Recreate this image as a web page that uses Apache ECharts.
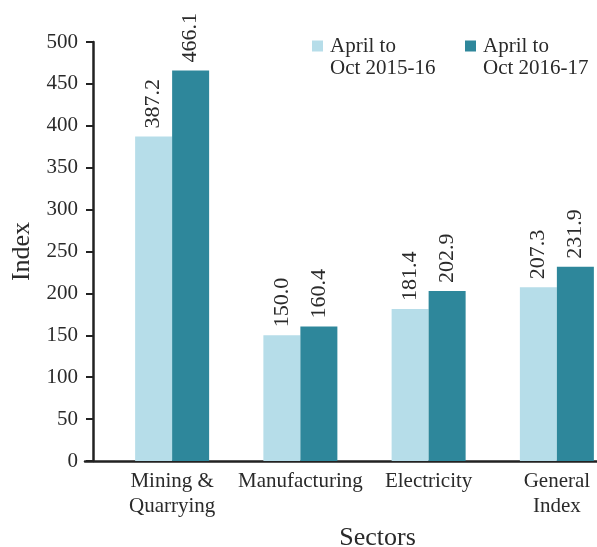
<!DOCTYPE html>
<html>
<head>
<meta charset="utf-8">
<script src="https://cdn.jsdelivr.net/npm/echarts@6/dist/echarts.min.js"></script>
<style>
  html, body { margin: 0; padding: 0; background: #fff; }
  #chart { width: 597px; height: 547px; }
</style>
</head>
<body>
<div id="chart"></div>
<script>
const sectors = ['Mining &\nQuarrying', 'Manufacturing', 'Electricity', 'General\nIndex']
const seriesNames = ['April to\nOct 2015-16', 'April to\nOct 2016-17']
const values2015 = [387.2, 150.0, 181.4, 207.3]
const values2016 = [466.1, 160.4, 202.9, 231.9]
const colors = ['#b6dde9', '#2e879b']

const font = 'Liberation Serif'
const textColor = '#2a2a2a'

const chart = echarts.init(document.getElementById('chart'))

// square at the top of a taller box so the icon sits beside the first line
const legendIcon = 'path://M0,0H11V11H0Z M0,33L0,33'

function legendFor(name, left) {
  return {
    data: [name],
    left: left,
    top: 35,
    padding: 0,
    icon: legendIcon,
    itemWidth: 11,
    itemHeight: 33,
    itemGap: 0,
    selectedMode: false,
    textStyle: { fontFamily: font, fontSize: 21, lineHeight: 22, color: textColor, padding: [0, 0, 0, 2] }
  }
}

const barLabel = {
  show: true,
  position: 'top',
  rotate: 90,
  align: 'left',
  verticalAlign: 'middle',
  distance: 8,
  fontFamily: font,
  fontSize: 22,
  color: textColor,
  formatter: p => p.value.toFixed(1)
}

chart.setOption({
  animation: false,
  legend: [legendFor(seriesNames[0], 312), legendFor(seriesNames[1], 465)],
  grid: [
    { left: 108, right: -24, top: 42, bottom: 86, outerBoundsMode: 'none', containLabel: false },
    { left: 85, right: 0, top: 42, bottom: 86, outerBoundsMode: 'none', containLabel: false }
  ],
  xAxis: [
    {
      type: 'category',
      data: sectors,
      gridIndex: 0,
      axisLine: { show: false },
      axisTick: { show: false },
      axisLabel: { interval: 0, margin: 8, fontFamily: font, fontSize: 21, lineHeight: 25, color: textColor },
      name: 'Sectors',
      nameLocation: 'middle',
      nameGap: 64,
      nameTextStyle: { fontFamily: font, fontSize: 26, color: textColor, padding: [0, 0, 0, 26] }
    },
    {
      type: 'value',
      gridIndex: 1,
      min: 0,
      max: 1,
      axisLine: { show: true, lineStyle: { color: '#222', width: 2.5 } },
      axisTick: { show: false },
      axisLabel: { show: false },
      splitLine: { show: false }
    }
  ],
  yAxis: [
    {
      type: 'value',
      gridIndex: 0,
      min: 0,
      max: 500,
      interval: 50,
      offset: 15,
      axisLine: { show: true, lineStyle: { color: '#222', width: 2.5 } },
      axisTick: { show: true, length: 7, lineStyle: { color: '#222', width: 2 } },
      axisLabel: { margin: 15, fontFamily: font, fontSize: 21, color: textColor },
      splitLine: { show: false },
      name: 'Index',
      nameLocation: 'middle',
      nameGap: 57,
      nameTextStyle: { fontFamily: font, fontSize: 26, color: textColor }
    },
    {
      type: 'value',
      gridIndex: 1,
      show: false
    }
  ],
  series: [
    {
      name: seriesNames[0],
      type: 'bar',
      data: values2015,
      barWidth: 37,
      barGap: 0,
      itemStyle: { color: colors[0] },
      label: barLabel
    },
    {
      name: seriesNames[1],
      type: 'bar',
      data: values2016,
      barWidth: 37,
      barGap: 0,
      itemStyle: { color: colors[1] },
      label: barLabel
    }
  ]
})
</script>
</body>
</html>
